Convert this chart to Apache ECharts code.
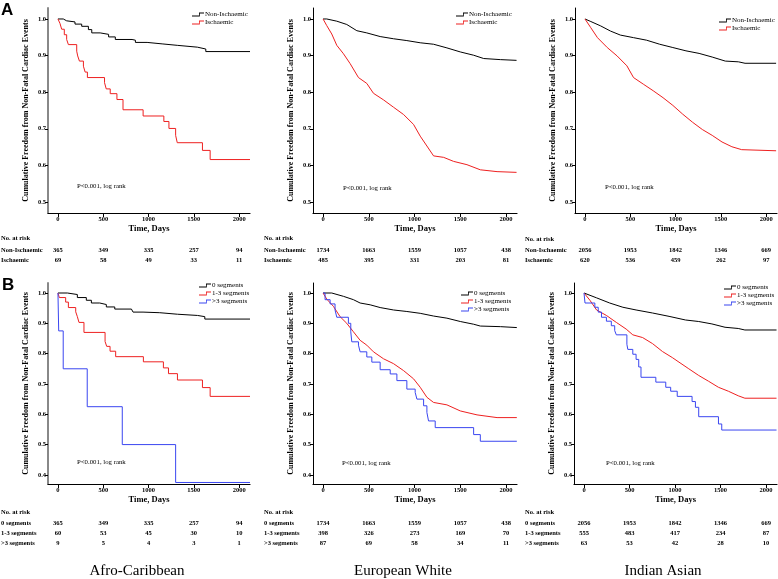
<!DOCTYPE html>
<html>
<head>
<meta charset="utf-8">
<script src="https://cdn.jsdelivr.net/npm/echarts@6/dist/echarts.min.js"></script>
<style>
html,body{margin:0;padding:0;background:#fff;}
#main{width:778px;height:579px;}
</style>
</head>
<body>
<div id="main"></div>
<script>
// axis ticks
let dayTicks=[0,500,1000,1500,2000];
let survTicksA=[0.5,0.6,0.7,0.8,0.9,1.0];
let survTicksB=[0.4,0.5,0.6,0.7,0.8,0.9,1.0];

let groupsA=['Non-Ischaemic','Ischaemic'];
let groupsB=['0 segments','1-3 segments','>3 segments'];
let cohorts=['Afro-Caribbean','European White','Indian Asian'];

// --- A: ischaemia, [day, freedom] ---
let afroNonIsch=[[0,1],[59,0.995],[96,0.992],[188,0.986],[262,0.98],[336,0.971],[373,0.962],[466,0.958],[559,0.951],[633,0.944],[818,0.942],[855,0.936],[984,0.932],[1150,0.928],[1317,0.923],[1539,0.918],[1632,0.911],[2120,0.911]];
let afroIsch=[[0,1],[22,0.988],[41,0.972],[70,0.957],[96,0.944],[115,0.93],[207,0.912],[218,0.899],[237,0.885],[281,0.871],[300,0.855],[325,0.84],[514,0.826],[533,0.809],[577,0.796],[651,0.78],[718,0.752],[940,0.735],[1169,0.72],[1225,0.701],[1299,0.682],[1317,0.662],[1595,0.641],[1680,0.616],[2120,0.616]];
let euroNonIsch=[[0,1],[40,1],[150,0.994],[259,0.985],[369,0.968],[478,0.962],[624,0.952],[770,0.946],[916,0.941],[1062,0.935],[1208,0.931],[1354,0.921],[1500,0.91],[1646,0.901],[1756,0.892],[1938,0.889],[2115,0.887]];
let euroIsch=[[0,1],[40,0.982],[95,0.959],[150,0.928],[223,0.905],[296,0.878],[387,0.84],[478,0.824],[551,0.797],[661,0.779],[770,0.759],[880,0.739],[989,0.712],[1062,0.68],[1135,0.653],[1208,0.626],[1318,0.622],[1427,0.611],[1573,0.602],[1719,0.588],[1902,0.583],[2115,0.581]];
let asianNonIsch=[[0,1],[65,0.993],[174,0.981],[282,0.967],[391,0.956],[536,0.949],[681,0.942],[825,0.931],[970,0.922],[1115,0.913],[1260,0.906],[1405,0.896],[1549,0.885],[1694,0.883],[1767,0.879],[2110,0.879]];
let asianIsch=[[0,1],[65,0.976],[138,0.949],[246,0.922],[355,0.899],[463,0.872],[536,0.84],[644,0.822],[753,0.804],[862,0.785],[970,0.764],[1079,0.74],[1187,0.718],[1296,0.698],[1405,0.682],[1513,0.664],[1622,0.651],[1730,0.643],[2110,0.64]];

// --- B: number of segments ---
let afroSeg0=[[0,1],[104,0.995],[214,0.985],[313,0.976],[369,0.967],[461,0.962],[534,0.954],[627,0.947],[811,0.943],[829,0.937],[939,0.935],[1124,0.93],[1319,0.926],[1540,0.922],[1621,0.914],[2120,0.914]];
let afroSeg13=[[0,1],[15,0.985],[85,0.97],[115,0.952],[196,0.938],[214,0.922],[232,0.903],[287,0.87],[520,0.84],[538,0.824],[575,0.808],[637,0.79],[943,0.773],[1164,0.753],[1220,0.734],[1319,0.713],[1595,0.688],[1680,0.659],[2120,0.659]];
let afroSeg3=[[0,1],[8,0.875],[58,0.75],[323,0.625],[710,0.5],[1299,0.375],[2120,0.375]];
let euroSeg0=[[0,1],[95,1],[223,0.989],[332,0.978],[405,0.967],[515,0.961],[624,0.952],[770,0.944],[916,0.939],[1062,0.933],[1208,0.924],[1354,0.917],[1500,0.906],[1646,0.897],[1719,0.891],[1938,0.889],[2118,0.886]];
let euroSeg13=[[0,1],[40,0.98],[113,0.956],[186,0.922],[259,0.9],[332,0.872],[405,0.844],[478,0.828],[551,0.806],[661,0.783],[770,0.767],[880,0.744],[989,0.717],[1062,0.689],[1135,0.656],[1208,0.639],[1354,0.631],[1500,0.611],[1683,0.598],[1902,0.589],[2118,0.589]];
let euroSeg3=[[0,1],[22,0.978],[77,0.964],[131,0.944],[150,0.92],[277,0.9],[303,0.872],[314,0.839],[387,0.828],[405,0.806],[478,0.789],[533,0.772],[624,0.747],[734,0.733],[807,0.711],[916,0.683],[1007,0.672],[1026,0.65],[1099,0.628],[1135,0.606],[1153,0.578],[1226,0.556],[1646,0.533],[1719,0.511],[2118,0.511]];
let asianSeg0=[[0,1],[138,0.984],[282,0.967],[427,0.953],[572,0.944],[753,0.934],[934,0.923],[1115,0.911],[1260,0.906],[1405,0.898],[1549,0.887],[1694,0.883],[1767,0.878],[2115,0.878]];
let asianSeg13=[[0,1],[65,0.976],[138,0.944],[246,0.926],[355,0.903],[463,0.881],[536,0.862],[644,0.853],[753,0.833],[862,0.807],[970,0.787],[1043,0.772],[1151,0.75],[1260,0.728],[1368,0.709],[1477,0.689],[1586,0.676],[1694,0.661],[1767,0.653],[2115,0.653]];
let asianSeg3=[[0,1],[11,0.967],[119,0.953],[156,0.937],[192,0.92],[246,0.907],[300,0.892],[337,0.876],[355,0.862],[471,0.831],[481,0.814],[536,0.798],[572,0.781],[601,0.756],[626,0.722],[789,0.706],[898,0.689],[952,0.676],[1024,0.659],[1187,0.642],[1224,0.623],[1260,0.592],[1477,0.568],[1513,0.548],[2115,0.548]];

// --- numbers at risk ---
let afroRiskNonIsch=[365,349,335,257,94];
let afroRiskIsch=[69,58,49,33,11];
let euroRiskNonIsch=[1734,1663,1559,1057,438];
let euroRiskIsch=[485,395,331,203,81];
let asianRiskNonIsch=[2056,1953,1842,1346,669];
let asianRiskIsch=[620,536,459,262,97];
let afroRiskSeg0=[365,349,335,257,94];
let afroRiskSeg13=[60,53,45,30,10];
let afroRiskSeg3=[9,5,4,3,1];
let euroRiskSeg0=[1734,1663,1559,1057,438];
let euroRiskSeg13=[398,326,273,169,70];
let euroRiskSeg3=[87,69,58,34,11];
let asianRiskSeg0=[2056,1953,1842,1346,669];
let asianRiskSeg13=[555,483,417,234,87];
let asianRiskSeg3=[63,53,42,28,10];

const BLACK='#000000',RED='#ee2020',BLUE='#3a46f0';
const SERIF='"Liberation Serif","DejaVu Serif",serif';
const STEP_ICON='path://M0,3 L7,3 L7,0 L12,0 L12,0.8 L7.8,0.8 L7.8,3.8 L0,3.8 Z';

//面板布局
let panels=[
    {grid:{left:48,top:8,width:202,height:205},yMin:0.47,yMax:1.03,yTicks:survTicksA,axisColor:'#888',axisWidth:2,
     lines:[[groupsA[0],afroNonIsch,BLACK,true],[groupsA[1],afroIsch,RED,true]],
     legend:{left:192,top:11},riskLabels:groupsA,risk:[afroRiskNonIsch,afroRiskIsch],riskX:1,riskY:[238,250,260],p:[77,186]},
    {grid:{left:313,top:8,width:204,height:205},yMin:0.47,yMax:1.03,yTicks:survTicksA,axisColor:'#000',axisWidth:1,
     lines:[[groupsA[0],euroNonIsch,BLACK,false],[groupsA[1],euroIsch,RED,false]],
     legend:{left:456,top:11},riskLabels:groupsA,risk:[euroRiskNonIsch,euroRiskIsch],riskX:264,riskY:[238,250,260],p:[343,188]},
    {grid:{left:575,top:8,width:202,height:205},yMin:0.47,yMax:1.03,yTicks:survTicksA,axisColor:'#000',axisWidth:1,
     lines:[[groupsA[0],asianNonIsch,BLACK,false],[groupsA[1],asianIsch,RED,false]],
     legend:{left:719,top:17},riskLabels:groupsA,risk:[asianRiskNonIsch,asianRiskIsch],riskX:525,riskY:[239,250,260],p:[605,187]},
    {grid:{left:48,top:283,width:202,height:201},yMin:0.37,yMax:1.033,yTicks:survTicksB,axisColor:'#888',axisWidth:2,
     lines:[[groupsB[0],afroSeg0,BLACK,true],[groupsB[1],afroSeg13,RED,true],[groupsB[2],afroSeg3,BLUE,true]],
     legend:{left:199,top:282},riskLabels:groupsB,risk:[afroRiskSeg0,afroRiskSeg13,afroRiskSeg3],riskX:1,riskY:[512,523,533,543],p:[77,462]},
    {grid:{left:313,top:283,width:204,height:201},yMin:0.37,yMax:1.033,yTicks:survTicksB,axisColor:'#000',axisWidth:1,
     lines:[[groupsB[0],euroSeg0,BLACK,false],[groupsB[1],euroSeg13,RED,false],[groupsB[2],euroSeg3,BLUE,true]],
     legend:{left:461,top:290},riskLabels:groupsB,risk:[euroRiskSeg0,euroRiskSeg13,euroRiskSeg3],riskX:264,riskY:[512,523,533,543],p:[342,463]},
    {grid:{left:574,top:283,width:203,height:201},yMin:0.37,yMax:1.033,yTicks:survTicksB,axisColor:'#000',axisWidth:1,
     lines:[[groupsB[0],asianSeg0,BLACK,false],[groupsB[1],asianSeg13,RED,false],[groupsB[2],asianSeg3,BLUE,true]],
     legend:{left:724,top:284},riskLabels:groupsB,risk:[asianRiskSeg0,asianRiskSeg13,asianRiskSeg3],riskX:525,riskY:[512,523,533,543],p:[606,463]}
];

let option={animation:false,backgroundColor:'#fff',grid:[],xAxis:[],yAxis:[],series:[],legend:[]};

panels.forEach(function (p,i) {
    option.grid.push(Object.assign({outerBoundsMode:'none',containLabel:false},p.grid));
    option.xAxis.push({
        type:'value',gridIndex:i,min:-110,max:2120,
        name:'Time, Days',nameLocation:'middle',nameGap:11,
        nameTextStyle:{fontFamily:SERIF,fontWeight:'bold',fontSize:8.5,color:'#000'},
        axisLine:{onZero:false,lineStyle:{color:'#000',width:1.2}},
        axisTick:{customValues:dayTicks,length:4,lineStyle:{color:'#000'}},
        axisLabel:{customValues:dayTicks,fontFamily:SERIF,fontWeight:'bold',fontSize:6.5,color:'#000',margin:3,
            formatter:function (v) {return String(v);}},
        splitLine:{show:false}
    });
    option.yAxis.push({
        type:'value',gridIndex:i,min:p.yMin,max:p.yMax,
        name:'Cumulative Freedom from Non-Fatal Cardiac Events',nameLocation:'middle',nameGap:18,
        nameTextStyle:{fontFamily:SERIF,fontWeight:'bold',fontSize:8,color:'#000'},
        axisLine:{show:true,onZero:false,lineStyle:{color:p.axisColor,width:p.axisWidth}},
        axisTick:{customValues:p.yTicks,length:3,lineStyle:{color:'#000'}},
        axisLabel:{customValues:p.yTicks,fontFamily:SERIF,fontWeight:'bold',fontSize:6.5,color:'#000',margin:2,
            formatter:function (v) {return v.toFixed(1);}},
        splitLine:{show:false}
    });
    let names=[];
    p.lines.forEach(function (l) {
        names.push(l[0]);
        option.series.push({
            name:l[0],type:'line',xAxisIndex:i,yAxisIndex:i,data:l[1],
            step:l[3]?'end':false,showSymbol:false,symbol:'none',
            lineStyle:{color:l[2],width:1},itemStyle:{color:l[2]}
        });
    });
    option.legend.push({
        left:p.legend.left,top:p.legend.top,orient:'vertical',data:names,
        icon:STEP_ICON,itemWidth:12,itemHeight:4,itemGap:1,
        textStyle:{fontFamily:SERIF,fontSize:7,color:'#000',padding:[0,0,0,-4]},
        padding:0,selectedMode:false
    });
});

let chart=echarts.init(document.getElementById('main'));
chart.setOption(option);

function txt(x,y,s,font,align) {
    return {type:'text',x:x,y:y,silent:true,
        style:{text:s,font:font,fill:'#000',align:align||'left',verticalAlign:'middle'}};
}

let g=[];
let riskFont='bold 6.5px '+SERIF;
g.push(txt(1,10,'A','bold 17px "Liberation Sans",Arial,sans-serif'));
g.push(txt(2,285,'B','bold 17px "Liberation Sans",Arial,sans-serif'));
panels.forEach(function (p,i) {
    g.push(txt(p.p[0],p.p[1],'P<0.001, log rank','6.8px '+SERIF));
    g.push(txt(p.riskX,p.riskY[0],'No. at risk',riskFont));
    p.risk.forEach(function (row,r) {
        g.push(txt(p.riskX,p.riskY[r+1],p.riskLabels[r],riskFont));
        row.forEach(function (n,k) {
            let px=chart.convertToPixel({xAxisIndex:i},dayTicks[k]);
            g.push(txt(px,p.riskY[r+1],String(n),riskFont,'center'));
        });
    });
});
let cohortX=[137,403,663];
cohorts.forEach(function (c,k) {
    g.push(txt(cohortX[k],571,c,'15px '+SERIF,'center'));
});
chart.setOption({graphic:g});
</script>
</body>
</html>
